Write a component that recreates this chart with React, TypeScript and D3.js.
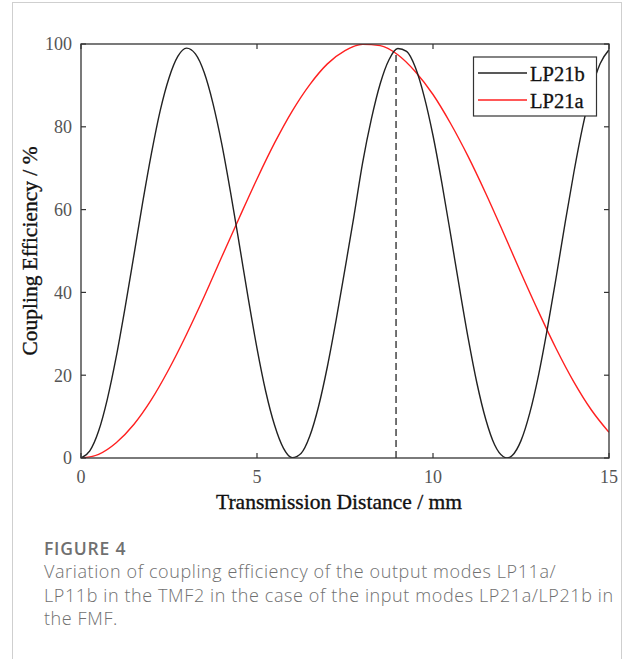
import React from "react";
import * as d3 from "d3";

// ---- data ----
const lp21bDistance = [
  0, 0.25, 0.5, 0.75, 1, 1.25, 1.5, 1.75, 2, 2.25, 2.5, 2.75, 3, 3.25, 3.5, 3.75,
  4, 4.25, 4.5, 4.75, 5, 5.25, 5.5, 5.75, 6, 6.25, 6.5, 6.75, 7, 7.25, 7.5, 7.75,
  8, 8.25, 8.5, 8.75, 9, 9.25, 9.5, 9.75, 10, 10.25, 10.5, 10.75, 11, 11.25, 11.5,
  11.75, 12, 12.1, 12.25, 12.5, 12.75, 13, 13.25, 13.5, 13.75, 14, 14.25, 14.5, 14.75, 15,
];
const lp21bEfficiency = [
  0, 1.7, 6.5, 14.3, 24.4, 36.2, 48.8, 61.6, 73.5, 83.9, 91.8, 97.0, 99.0, 97.6,
  93.1, 85.6, 75.8, 64.1, 51.5, 38.6, 26.5, 16.0, 7.9, 2.4, 0.1, 1.1, 5.3, 12.5,
  22.1, 33.4, 45.7, 58.2, 71.3, 81.9, 90.4, 96.2, 98.9, 98.2, 94.3, 87.3, 77.9,
  66.5, 54.0, 41.2, 28.9, 18.0, 9.3, 3.2, 0.3, 0.0, 0.6, 4.2, 10.9, 20.1, 31.3, 43.7,
  56.6, 68.9, 79.9, 88.9, 95.3, 98.6,
];
const lp21aDistance = [
  0, 0.5, 1, 1.5, 2, 2.5, 3, 3.5, 4, 4.5, 5, 5.5, 6, 6.5, 7, 7.5, 8, 8.5, 9, 9.5,
  10, 10.5, 11, 11.5, 12, 12.5, 13, 13.5, 14, 14.5, 15,
];
const lp21aEfficiency = [
  0, 0.9, 3.7, 8.1, 14.1, 21.5, 29.9, 39.0, 48.6, 58.1, 67.4, 76.1, 83.8, 90.2,
  95.2, 98.4, 99.9, 99.6, 97.4, 93.3, 87.8, 80.8, 72.8, 63.9, 54.4, 44.7, 35.3,
  26.4, 18.4, 11.6, 6.2,
];
const markerDistance = [8.95, 8.95];
const markerEfficiency = [0, 98.2];
const xTicks = [0, 5, 10, 15];
const yTicks = [0, 20, 40, 60, 80, 100];
const legendLabels = ["LP21b", "LP21a"];
const captionTitle = "FIGURE 4";
const captionLines = [
  "Variation of coupling efficiency of the output modes LP11a/",
  "LP11b in the TMF2 in the case of the input modes LP21a/LP21b in",
  "the FMF.",
];

const W = 625;
const H = 659;
const PL = 81;
const PR = 609;
const PT = 44;
const PB = 458;
const SERIF = "'Liberation Serif', 'Times New Roman', serif";
const SANS = "'Open Sans', 'Noto Sans', sans-serif";

export default function App() {
  const x = d3.scaleLinear().domain([0, 15]).range([PL, PR]);
  const y = d3.scaleLinear().domain([0, 100]).range([PB, PT]);

  const line = d3
    .line<[number, number]>()
    .x((d) => x(d[0]))
    .y((d) => y(d[1]))
    .curve(d3.curveMonotoneX);

  const blackPts = lp21bDistance.map((d, i) => [d, lp21bEfficiency[i]] as [number, number]);
  const redPts = lp21aDistance.map((d, i) => [d, lp21aEfficiency[i]] as [number, number]);
  const markerPts = markerDistance.map((d, i) => [d, markerEfficiency[i]] as [number, number]);

  const axisColor = "#333";
  const tickLen = 5;
  const legendColors = ["#222", "#ff2020"];

  return (
    <div style={{ position: "fixed", left: 0, top: 0, width: W, height: H, background: "#fff" }}>
      <svg width={W} height={H} viewBox={`0 0 ${W} ${H}`}>
        <defs>
          <clipPath id="plotClip">
            <rect x={PL} y={PT} width={PR - PL} height={PB - PT} />
          </clipPath>
        </defs>
        {/* card frame */}
        <rect x={12.5} y={2.5} width={609} height={700} fill="none" stroke="#cfcfcf" strokeWidth={1} />

        {/* curves */}
        <g clipPath="url(#plotClip)">
          <path d={line(redPts) || ""} fill="none" stroke="#ff2020" strokeWidth={1.4} />
          <path d={line(blackPts) || ""} fill="none" stroke="#222" strokeWidth={1.4} />
          <path
            d={d3.line<[number, number]>().x((d) => x(d[0])).y((d) => y(d[1]))(markerPts) || ""}
            fill="none"
            stroke="#444"
            strokeWidth={1.5}
            strokeDasharray="7,4"
          />
        </g>

        {/* axes box */}
        <rect x={PL} y={PT} width={PR - PL} height={PB - PT} fill="none" stroke={axisColor} strokeWidth={1.3} />
        {xTicks.map((t) => (
          <g key={"xt" + t}>
            <line x1={x(t)} x2={x(t)} y1={PB} y2={PB - tickLen} stroke={axisColor} strokeWidth={1.2} />
            <line x1={x(t)} x2={x(t)} y1={PT} y2={PT + tickLen} stroke={axisColor} strokeWidth={1.2} />
            <text x={x(t)} y={483} textAnchor="middle" fontFamily={SERIF} fontSize={18} fill="#555">
              {t}
            </text>
          </g>
        ))}
        {yTicks.map((t) => (
          <g key={"yt" + t}>
            <line x1={PL} x2={PL + tickLen} y1={y(t)} y2={y(t)} stroke={axisColor} strokeWidth={1.2} />
            <line x1={PR} x2={PR - tickLen} y1={y(t)} y2={y(t)} stroke={axisColor} strokeWidth={1.2} />
            <text x={72} y={y(t)} dy="0.35em" textAnchor="end" fontFamily={SERIF} fontSize={18} fill="#555">
              {t}
            </text>
          </g>
        ))}

        {/* axis titles */}
        <text
          x={339}
          y={509}
          textAnchor="middle"
          fontFamily={SERIF}
          fontSize={21.5}
          fill="#111"
          stroke="#111"
          strokeWidth={0.35}
        >
          Transmission Distance / mm
        </text>
        <text
          transform={`translate(37, ${(PT + PB) / 2}) rotate(-90)`}
          textAnchor="middle"
          fontFamily={SERIF}
          fontSize={21.5}
          fill="#111"
          stroke="#111"
          strokeWidth={0.35}
        >
          Coupling Efficiency / %
        </text>

        {/* legend */}
        <rect x={473.5} y={57} width={123} height={59} fill="#fff" stroke={axisColor} strokeWidth={1.2} />
        {legendLabels.map((lab, i) => (
          <g key={lab}>
            <line x1={478} x2={527} y1={73 + i * 27} y2={73 + i * 27} stroke={legendColors[i]} strokeWidth={1.4} />
            <text x={530} y={80.5 + i * 27} fontFamily={SERIF} fontSize={20.5} fill="#111" stroke="#111" strokeWidth={0.3}>
              {lab}
            </text>
          </g>
        ))}

        {/* caption */}
        <text
          x={44}
          y={555}
          fontFamily={SANS}
          fontSize={17.5}
          fontWeight={600}
          letterSpacing={0.8}
          fill="#707070"
        >
          {captionTitle}
        </text>
        {captionLines.map((l, i) => (
          <text
            key={i}
            x={44}
            y={578 + i * 23.5}
            fontFamily={SANS}
            fontSize={18}
            fontWeight={300}
            letterSpacing={0.6}
            fill="#707070"
          >
            {l}
          </text>
        ))}
      </svg>
    </div>
  );
}
